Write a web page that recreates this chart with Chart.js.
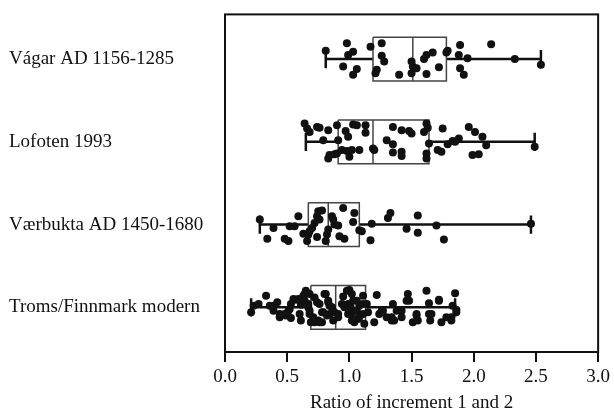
<!DOCTYPE html>
<html>
<head>
<meta charset="utf-8">
<script src="https://cdn.jsdelivr.net/npm/chart.js@4"></script>
<style>
  html, body { margin: 0; padding: 0; background: #fff; }
  #wrap { width: 614px; height: 414px; }
</style>
</head>
<body>
<div id="wrap"><canvas id="ratio"></canvas></div>
<script>
// groups, top to bottom
var groups = ['Vágar AD 1156-1285', 'Lofoten 1993', 'Værbukta AD 1450-1680', 'Troms/Finnmark modern'];

// box plot summaries (ratio)
var whiskerLow  = [0.81, 0.65, 0.28, 0.21];
var q1          = [1.19, 0.91, 0.67, 0.69];
var median      = [1.51, 1.19, 0.83, 0.89];
var q3          = [1.78, 1.64, 1.08, 1.13];
var whiskerHigh = [2.54, 2.49, 2.46, 1.85];

var xTicks = [0, 0.5, 1, 1.5, 2, 2.5, 3];

// individual values: [ratio, vertical jitter]
var vagarPts = [
  [0.81,-0.10],[0.98,-0.19],[1.03,-0.09],[0.99,-0.05],[0.95,0.09],[1.06,0.12],[1.03,0.19],
  [1.17,-0.15],[1.26,-0.19],[1.26,-0.04],[1.28,0.03],[1.22,0.13],[1.21,0.17],[1.40,0.19],
  [1.50,0.03],[1.51,0.09],[1.54,0.11],[1.50,0.17],[1.60,0.00],[1.62,-0.05],[1.67,-0.08],
  [1.72,0.10],[1.62,0.18],[1.79,-0.10],[1.78,-0.08],[1.89,-0.17],[1.88,-0.05],[1.95,-0.01],
  [1.89,0.11],[1.92,0.19],[2.14,-0.18],[2.33,0.00],[2.54,0.07]
];
var lofotenPts = [
  [0.64,-0.22],[0.66,-0.16],[0.68,-0.12],[0.74,-0.18],[0.76,-0.17],[0.83,-0.14],[0.90,-0.20],
  [0.97,-0.13],[0.99,-0.06],[1.03,-0.21],[1.06,-0.20],[1.13,-0.20],[1.13,-0.11],[0.79,-0.02],
  [0.91,-0.02],[0.84,0.16],[0.83,0.20],[0.88,0.15],[0.90,0.14],[0.94,0.10],[0.98,0.11],
  [1.02,0.10],[1.00,0.18],[1.08,0.10],[1.19,0.08],[1.20,0.10],[1.30,-0.02],[1.35,0.03],
  [1.35,-0.18],[1.42,-0.14],[1.50,-0.10],[1.48,-0.13],[1.35,0.13],[1.42,0.12],[1.42,0.17],
  [1.62,-0.22],[1.63,-0.17],[1.60,-0.12],[1.64,0.02],[1.62,0.14],[1.62,0.20],[1.75,-0.16],
  [1.71,0.10],[1.74,0.12],[1.79,0.03],[1.83,-0.01],[1.88,-0.04],[1.85,0.00],[1.96,-0.18],
  [2.01,-0.12],[2.07,-0.06],[2.10,0.04],[1.99,0.16],[2.04,0.15],[2.49,0.06]
];
var vaerbuktaPts = [
  [0.28,-0.06],[0.34,0.17],[0.39,0.04],[0.48,0.17],[0.51,0.20],[0.52,0.02],[0.56,0.02],
  [0.59,-0.10],[0.63,0.11],[0.66,0.20],[0.67,0.12],[0.68,0.08],[0.70,0.04],[0.72,-0.02],
  [0.74,-0.10],[0.75,-0.16],[0.78,-0.17],[0.76,-0.06],[0.74,0.15],[0.81,0.20],[0.82,0.12],
  [0.83,0.06],[0.86,-0.10],[0.87,-0.06],[0.88,0.00],[0.91,0.01],[0.92,0.14],[0.95,-0.20],
  [0.96,0.17],[1.04,-0.14],[1.03,-0.03],[1.08,0.07],[1.10,0.08],[1.17,0.19],[1.18,-0.01],
  [1.31,-0.08],[1.33,-0.14],[1.46,0.05],[1.55,-0.11],[1.55,0.10],[1.70,0.01],[1.76,0.18],
  [2.46,-0.01]
];
var tromsPts = [
  [0.21,0.06],[0.23,-0.02],[0.27,-0.04],[0.33,-0.14],[0.36,-0.02],[0.39,0.04],[0.42,-0.06],
  [0.44,0.12],[0.48,0.08],[0.51,0.04],[0.53,0.13],[0.53,-0.04],[0.55,-0.10],[0.57,-0.09],
  [0.60,0.08],[0.61,0.16],[0.61,-0.03],[0.63,-0.14],[0.64,-0.08],[0.65,-0.20],[0.67,-0.04],
  [0.68,0.04],[0.69,0.18],[0.71,0.12],[0.68,-0.16],[0.72,-0.12],[0.74,-0.06],[0.76,-0.04],
  [0.75,0.16],[0.78,0.18],[0.79,0.06],[0.81,-0.16],[0.82,0.10],[0.83,-0.08],[0.84,-0.02],
  [0.86,0.00],[0.88,0.06],[0.91,0.08],[0.95,-0.13],[0.98,-0.20],[1.00,-0.21],[1.02,-0.16],
  [0.99,-0.04],[1.01,0.00],[1.02,0.08],[1.04,0.18],[1.06,0.04],[1.07,0.14],[1.08,-0.02],
  [1.11,-0.14],[1.11,0.08],[1.14,-0.04],[1.15,0.06],[1.20,0.18],[1.22,-0.15],[1.24,0.08],
  [1.27,0.04],[1.30,0.12],[1.34,0.16],[1.35,-0.04],[1.38,0.04],[1.42,0.04],[1.47,-0.16],
  [1.46,-0.08],[1.51,0.18],[1.54,0.10],[1.62,-0.20],[1.64,-0.05],[1.64,0.08],[1.65,0.16],
  [1.72,-0.09],[1.74,0.18],[1.82,0.12],[1.85,-0.17],[1.86,0.03],
  [0.39,-0.02],[0.44,0.08],[0.49,0.10],[0.52,0.02],[0.59,-0.10],[0.63,-0.12],[0.64,-0.16],
  [0.67,0.00],[0.68,0.08],[0.72,0.18],[0.76,0.18],[0.78,0.06],[0.80,-0.16],[0.83,-0.06],
  [0.84,0.08],[0.87,0.16],[0.91,0.12],[0.94,-0.04],[0.96,0.00],[0.99,0.08],[1.02,0.16],
  [1.03,-0.08],[1.06,-0.08],[1.04,0.04],[1.11,-0.04],[1.08,0.12],[1.12,0.20],[1.26,0.04],
  [1.34,0.12],[1.36,0.16],[1.42,0.12],[1.48,-0.08],[1.54,0.08],[1.55,0.16],[1.66,0.08],
  [1.72,-0.08],[1.78,0.12],[1.82,0.16],[1.83,-0.02],[1.86,0.06]
];
var allPts = [vagarPts, lofotenPts, vaerbuktaPts, tromsPts];

var BOX_HALF = 0.265;
var CAP_HALF = 0.11;
var boxColor = '#444';
var inkColor = '#111';

function lineSet(points, color, width) {
  return {
    data: points,
    showLine: true,
    borderColor: color,
    borderWidth: width,
    pointRadius: 0,
    fill: false,
    order: 2
  };
}

var datasets = [];

allPts.forEach(function(pts, i) {
  datasets.push({
    data: pts.map(function(p) { return { x: p[0], y: i + p[1] }; }),
    pointRadius: 4,
    pointBackgroundColor: inkColor,
    pointBorderWidth: 0,
    order: 0
  });
});

groups.forEach(function(g, i) {
  var top = i - BOX_HALF, bot = i + BOX_HALF;
  // box
  datasets.push(lineSet([
    { x: q1[i], y: top }, { x: q3[i], y: top }, { x: q3[i], y: bot },
    { x: q1[i], y: bot }, { x: q1[i], y: top }
  ], boxColor, 1.5));
  // median
  datasets.push(lineSet([{ x: median[i], y: top }, { x: median[i], y: bot }], boxColor, 1.5));
  // whiskers
  datasets.push(lineSet([{ x: whiskerLow[i], y: i }, { x: q1[i], y: i }], inkColor, 2.5));
  datasets.push(lineSet([{ x: q3[i], y: i }, { x: whiskerHigh[i], y: i }], inkColor, 2.5));
  datasets.push(lineSet([{ x: whiskerLow[i], y: i - CAP_HALF }, { x: whiskerLow[i], y: i + CAP_HALF }], inkColor, 2.5));
  datasets.push(lineSet([{ x: whiskerHigh[i], y: i - CAP_HALF }, { x: whiskerHigh[i], y: i + CAP_HALF }], inkColor, 2.5));
});

var frame = {
  id: 'frame',
  afterDraw: function(chart) {
    var a = chart.chartArea, ctx = chart.ctx;
    ctx.save();
    ctx.strokeStyle = inkColor;
    ctx.lineWidth = 2;
    ctx.strokeRect(a.left, a.top, a.right - a.left, a.bottom - a.top);
    ctx.restore();
  }
};

var serif = 'Liberation Serif, Times New Roman, serif';

new Chart(document.getElementById('ratio'), {
  type: 'scatter',
  data: { datasets: datasets },
  plugins: [frame],
  options: {
    responsive: true,
    maintainAspectRatio: false,
    animation: false,
    layout: { padding: { left: 9, right: 15, top: 11, bottom: 0 } },
    plugins: {
      legend: { display: false },
      tooltip: { enabled: false }
    },
    scales: {
      x: {
        type: 'linear',
        min: 0,
        max: 3,
        afterBuildTicks: function(scale) {
          scale.ticks = xTicks.map(function(v) { return { value: v }; });
        },
        afterFit: function(scale) { scale.height = 62; },
        ticks: {
          color: inkColor,
          padding: 4,
          font: { family: serif, size: 19 },
          callback: function(v) { return Number(v).toFixed(1); }
        },
        grid: {
          drawOnChartArea: false,
          drawTicks: true,
          tickLength: 10,
          color: inkColor,
          lineWidth: 2
        },
        border: { display: false },
        title: {
          display: true,
          text: 'Ratio of increment 1 and 2',
          color: inkColor,
          font: { family: serif, size: 19 },
          padding: { top: 0, bottom: 0 }
        }
      },
      y: {
        type: 'linear',
        min: -0.54,
        max: 3.54,
        reverse: true,
        afterBuildTicks: function(scale) {
          scale.ticks = groups.map(function(g, i) { return { value: i }; });
        },
        afterFit: function(scale) { scale.width = 216; },
        ticks: {
          crossAlign: 'far',
          color: inkColor,
          font: { family: serif, size: 19 },
          callback: function(v) { return groups[v]; }
        },
        grid: { display: false },
        border: { display: false }
      }
    }
  }
});
</script>
</body>
</html>
